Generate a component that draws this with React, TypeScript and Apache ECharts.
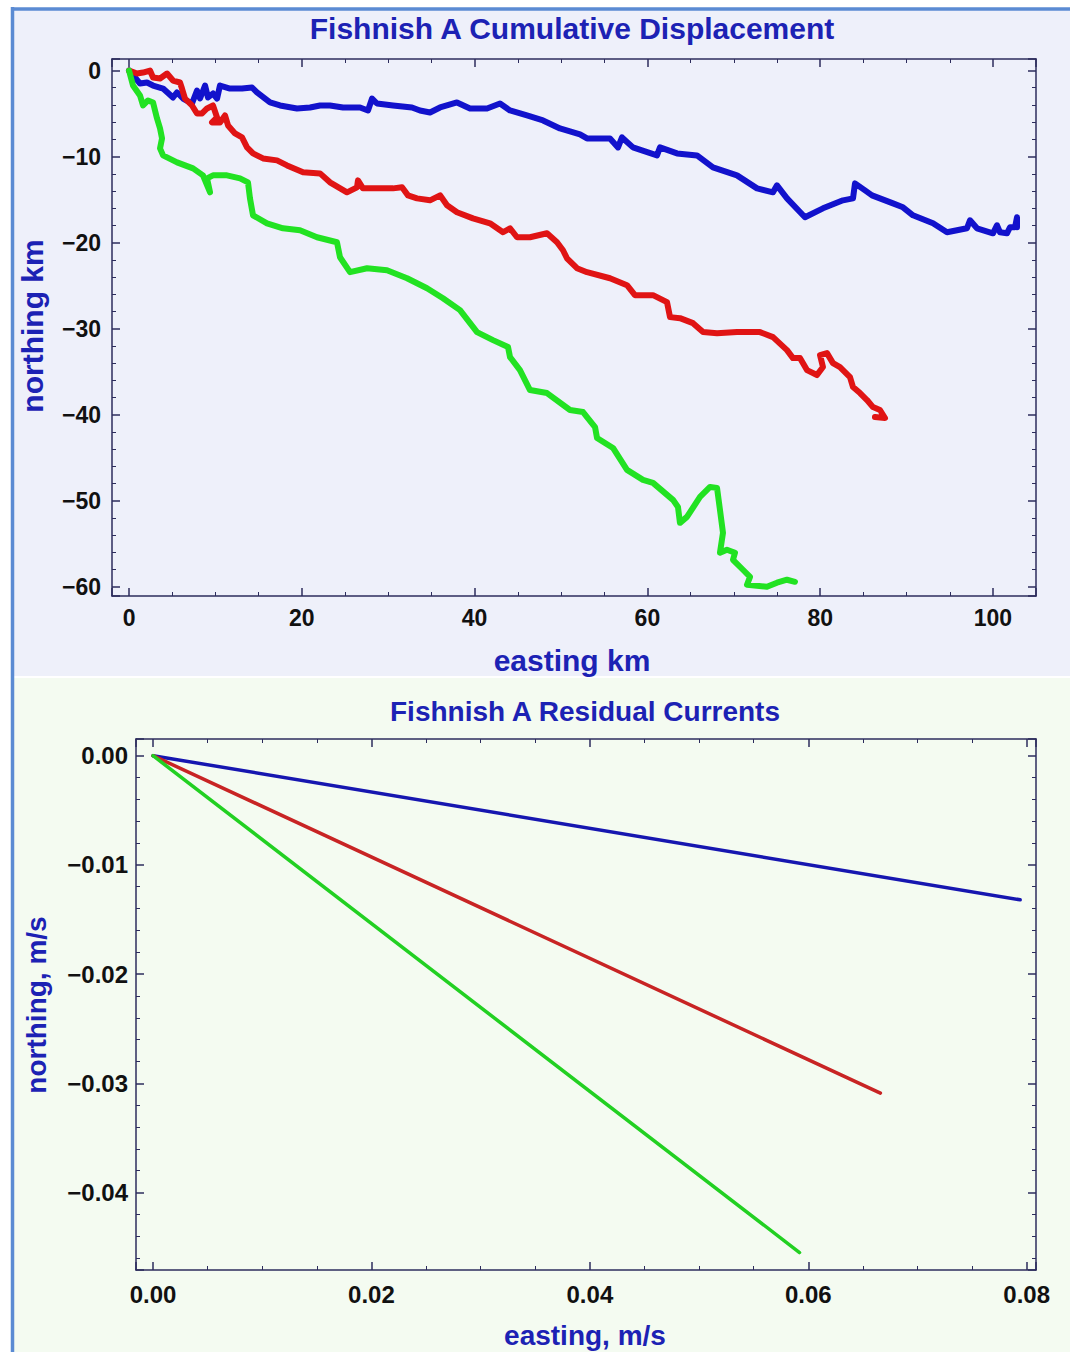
import React, { useEffect, useRef } from 'react';
import * as echarts from 'echarts';

// Cumulative displacement tracks (easting km, northing km)
const blueTrack: [number, number][] = [
  [0, 0], [1.27, -1.51], [2.08, -1.39], [2.78, -1.74], [3.94, -2.09], [5.09, -3.13], [5.56, -2.55],
  [6.25, -3.25], [7.29, -3.83], [7.87, -2.32], [8.22, -3.25], [8.8, -1.74], [9.14, -3.13], [9.72, -2.67],
  [10.19, -3.25], [10.53, -1.74], [11.69, -2.09], [13.08, -2.09], [14.24, -1.97], [14.81, -2.55],
  [16.32, -3.71], [17.48, -4.06], [19.44, -4.41], [20.95, -4.29], [22.11, -4.06], [23.26, -4.06],
  [24.77, -4.29], [26.74, -4.29], [27.66, -4.64], [28.13, -3.25], [28.7, -3.83], [30.56, -4.06],
  [32.75, -4.29], [33.68, -4.64], [34.84, -4.87], [36.0, -4.29], [37.96, -3.71], [39.47, -4.41],
  [41.44, -4.41], [42.94, -3.83], [44.1, -4.64], [46.06, -5.22], [47.92, -5.8], [49.88, -6.73],
  [52.2, -7.42], [53.01, -7.89], [55.67, -7.89], [56.6, -8.93], [57.06, -7.77], [58.33, -8.93],
  [61.11, -9.86], [61.46, -8.93], [63.43, -9.63], [65.74, -9.86], [67.59, -11.25], [70.37, -12.18],
  [72.69, -13.69], [74.54, -14.15], [75.0, -13.34], [76.16, -14.85], [78.24, -17.05], [80.32, -16.01],
  [82.64, -15.08], [83.8, -14.85], [84.03, -13.11], [85.19, -13.92], [86.0, -14.5], [88.43, -15.43],
  [89.58, -15.89], [90.74, -16.82], [93.06, -17.75], [94.68, -18.79], [96.99, -18.33], [97.34, -17.4],
  [98.15, -18.33], [100.0, -18.91], [100.46, -17.98], [100.81, -18.79], [101.62, -18.91], [101.97, -18.21],
  [102.55, -18.21], [102.78, -17.05], [102.78, -18.21],
];

const redTrack: [number, number][] = [
  [0, 0], [0.93, -0.35], [1.62, -0.23], [2.43, 0.0], [2.78, -0.81], [3.59, -0.93], [4.4, -0.35],
  [5.09, -1.16], [5.9, -1.39], [6.13, -2.09], [6.48, -3.25], [7.29, -4.06], [7.87, -4.99], [8.45, -4.99],
  [9.03, -4.41], [9.72, -4.06], [10.19, -5.45], [9.61, -6.03], [10.53, -6.03], [11.11, -5.22],
  [11.46, -6.38], [12.27, -7.31], [13.08, -7.77], [13.66, -8.93], [14.35, -9.63], [15.51, -10.21],
  [17.13, -10.44], [18.29, -11.02], [20.14, -11.83], [22.11, -11.95], [23.26, -12.99], [25.23, -14.15],
  [26.39, -13.57], [26.5, -12.76], [27.08, -13.69], [29.05, -13.69], [30.56, -13.69], [31.6, -13.57],
  [32.29, -14.5], [33.33, -14.85], [34.84, -15.08], [36.0, -14.5], [36.81, -15.66], [37.96, -16.47],
  [39.81, -17.17], [41.78, -17.75], [43.29, -18.79], [44.1, -18.33], [44.91, -19.37], [46.41, -19.37],
  [48.38, -18.91], [49.54, -19.95], [50.23, -20.88], [50.69, -21.81], [51.85, -22.97], [53.01, -23.43],
  [55.67, -24.13], [57.64, -24.94], [58.56, -26.1], [60.65, -26.1], [62.27, -26.91], [62.62, -28.65],
  [63.77, -28.77], [65.28, -29.35], [66.44, -30.39], [68.06, -30.51], [70.37, -30.39], [73.03, -30.39],
  [74.54, -30.97], [76.16, -32.48], [76.85, -33.41], [77.66, -33.41], [78.47, -34.8], [79.63, -35.38],
  [80.32, -34.45], [79.98, -33.06], [80.79, -32.83], [81.48, -33.99], [82.29, -34.45], [83.45, -35.61],
  [83.8, -36.77], [84.61, -37.47], [85.42, -38.28], [86.11, -39.1], [86.92, -39.44], [87.5, -40.37],
  [86.34, -40.26],
];

const greenTrack: [number, number][] = [
  [0, 0], [0.46, -1.74], [1.27, -2.9], [1.62, -4.06], [2.2, -3.48], [2.78, -3.71], [3.24, -5.57],
  [3.59, -6.73], [3.82, -7.89], [3.59, -9.05], [3.94, -9.86], [5.56, -10.67], [7.41, -11.37],
  [8.56, -12.18], [9.38, -14.15], [9.03, -12.53], [9.72, -12.18], [11.34, -12.18], [12.85, -12.53],
  [13.77, -12.99], [14.0, -14.85], [14.35, -16.82], [15.97, -17.75], [17.82, -18.33], [19.79, -18.56],
  [21.76, -19.37], [24.07, -19.95], [24.42, -21.69], [25.58, -23.43], [27.55, -22.97], [29.86, -23.2],
  [32.18, -24.13], [34.49, -25.29], [36.34, -26.45], [38.31, -27.84], [40.28, -30.39], [42.13, -31.32],
  [43.87, -32.13], [44.1, -33.29], [45.25, -34.8], [46.41, -37.12], [48.38, -37.47], [51.04, -39.44],
  [52.55, -39.68], [53.94, -41.42], [54.17, -42.69], [56.02, -43.85], [57.64, -46.4], [59.49, -47.56],
  [60.65, -47.91], [62.96, -49.88], [63.54, -50.7], [63.77, -52.55], [64.58, -51.86], [66.09, -49.54],
  [67.25, -48.38], [68.06, -48.49], [68.4, -51.04], [68.75, -53.71], [68.4, -56.03], [69.21, -55.68],
  [70.14, -56.03], [69.91, -56.84], [71.06, -58.0], [71.88, -58.82], [71.53, -59.74], [73.84, -59.98],
  [75.0, -59.51], [76.16, -59.16], [77.08, -59.4],
];

// Residual currents (easting m/s, northing m/s)
const blueResidual: [number, number][] = [[0, 0], [0.0794, -0.0132]];
const redResidual: [number, number][] = [[0, 0], [0.0666, -0.0309]];
const greenResidual: [number, number][] = [[0, 0], [0.0592, -0.0455]];

// Axis ranges and tick steps
const topXRange = [-1.97, 104.98];
const topYRange = [-61.05, 1.34];
const topXStep = 20;
const topYStep = 10;
const botXRange = [-0.00156, 0.08085];
const botYRange = [-0.0471, 0.00153];
const botXStep = 0.02;
const botYStep = 0.01;

const FONT = '"Liberation Sans", Arial, sans-serif';
const FRAME = '#2c2c5c';
const TITLE = '#1c22b4';

const minus = (s: string) => s.replace('-', '\u2212');

function makeAxis(
  gridIndex: number,
  position: string,
  range: number[],
  step: number,
  minorSplit: number,
  showLabels: boolean,
  formatter: (v: number) => string,
  fontSize: number,
  margin: number,
) {
  return {
    type: 'value',
    gridIndex,
    position,
    min: range[0],
    max: range[1],
    minInterval: step,
    maxInterval: step,
    splitNumber: 5,
    axisLine: { show: true, onZero: false, lineStyle: { color: FRAME, width: 1.5 } },
    axisTick: { show: true, inside: true, length: 8, lineStyle: { color: FRAME, width: 1.5 } },
    minorTick: { show: true, splitNumber: minorSplit, length: 4, lineStyle: { color: FRAME, width: 1 } },
    splitLine: { show: false },
    minorSplitLine: { show: false },
    axisLabel: {
      show: showLabels,
      showMinLabel: false,
      showMaxLabel: false,
      formatter,
      color: '#111111',
      fontSize,
      fontWeight: 'bold',
      fontFamily: FONT,
      margin,
    },
  };
}

const fmtInt = (v: number) => minus(String(Math.round(v)));
const fmt2 = (v: number) => minus(v.toFixed(2));

function text(str: string, x: number, y: number, size: number, rotate = 0) {
  return {
    type: 'text',
    x,
    y,
    rotation: rotate,
    z: 10,
    style: {
      text: str,
      fill: TITLE,
      font: `bold ${size}px ${FONT}`,
      align: 'center',
      verticalAlign: 'middle',
      textAlign: 'center',
      textVerticalAlign: 'middle',
    },
  };
}

export default function App() {
  const ref = useRef<HTMLDivElement>(null);
  useEffect(() => {
    if (!ref.current) return;
    const chart = echarts.init(ref.current, null, { renderer: 'svg' });
    const line = (name: string, data: [number, number][], color: string, width: number, xi: number, yi: number) => ({
      name,
      type: 'line',
      xAxisIndex: xi,
      yAxisIndex: yi,
      data,
      showSymbol: false,
      symbol: 'none',
      smooth: false,
      lineStyle: { color, width, join: 'round', cap: 'round' },
      itemStyle: { color },
      clip: true,
    });
    chart.setOption({
      animation: false,
      backgroundColor: '#ffffff',
      grid: [
        { left: 112, top: 59, width: 924, height: 537, outerBoundsMode: 'none', containLabel: false },
        { left: 136, top: 739, width: 900, height: 531, outerBoundsMode: 'none', containLabel: false },
      ],
      xAxis: [
        makeAxis(0, 'bottom', topXRange, topXStep, 4, true, fmtInt, 23, 10),
        makeAxis(0, 'top', topXRange, topXStep, 4, false, fmtInt, 23, 10),
        makeAxis(1, 'bottom', botXRange, botXStep, 4, true, fmt2, 24, 12),
        makeAxis(1, 'top', botXRange, botXStep, 4, false, fmt2, 24, 12),
      ],
      yAxis: [
        makeAxis(0, 'left', topYRange, topYStep, 5, true, fmtInt, 23, 11),
        makeAxis(0, 'right', topYRange, topYStep, 5, false, fmtInt, 23, 11),
        makeAxis(1, 'left', botYRange, botYStep, 5, true, fmt2, 24, 8),
        makeAxis(1, 'right', botYRange, botYStep, 5, false, fmt2, 24, 8),
      ],
      graphic: [
        { type: 'rect', z: -100, shape: { x: 12, y: 8, width: 1058, height: 668 }, style: { fill: '#eef0fa' } },
        { type: 'rect', z: -100, shape: { x: 12, y: 678, width: 1058, height: 674 }, style: { fill: '#f4fbf1' } },
        { type: 'line', z: -50, shape: { x1: 12.5, y1: 7, x2: 12.5, y2: 1352 }, style: { stroke: '#5b8bd3', lineWidth: 3.5 } },
        { type: 'line', z: -50, shape: { x1: 11, y1: 9, x2: 1070, y2: 9 }, style: { stroke: '#5b8bd3', lineWidth: 3.5 } },
        text('Fishnish A Cumulative Displacement', 572, 28, 30),
        text('easting km', 572, 660, 30),
        text('northing km', 32, 326, 30, Math.PI / 2),
        text('Fishnish A Residual Currents', 585, 711, 28),
        text('easting, m/s', 585, 1335, 28),
        text('northing, m/s', 36, 1005, 28, Math.PI / 2),
      ],
      series: [
        line('blue', blueTrack, '#1212cc', 6, 0, 0),
        line('red', redTrack, '#e01414', 6, 0, 0),
        line('green', greenTrack, '#22e222', 6, 0, 0),
        line('blueR', blueResidual, '#1616b0', 3.5, 2, 2),
        line('redR', redResidual, '#c82424', 3.5, 2, 2),
        line('greenR', greenResidual, '#22d022', 3.5, 2, 2),
      ],
    });
    return () => chart.dispose();
  }, []);
  return <div ref={ref} style={{ position: 'absolute', left: 0, top: 0, width: 1070, height: 1352 }} />;
}
